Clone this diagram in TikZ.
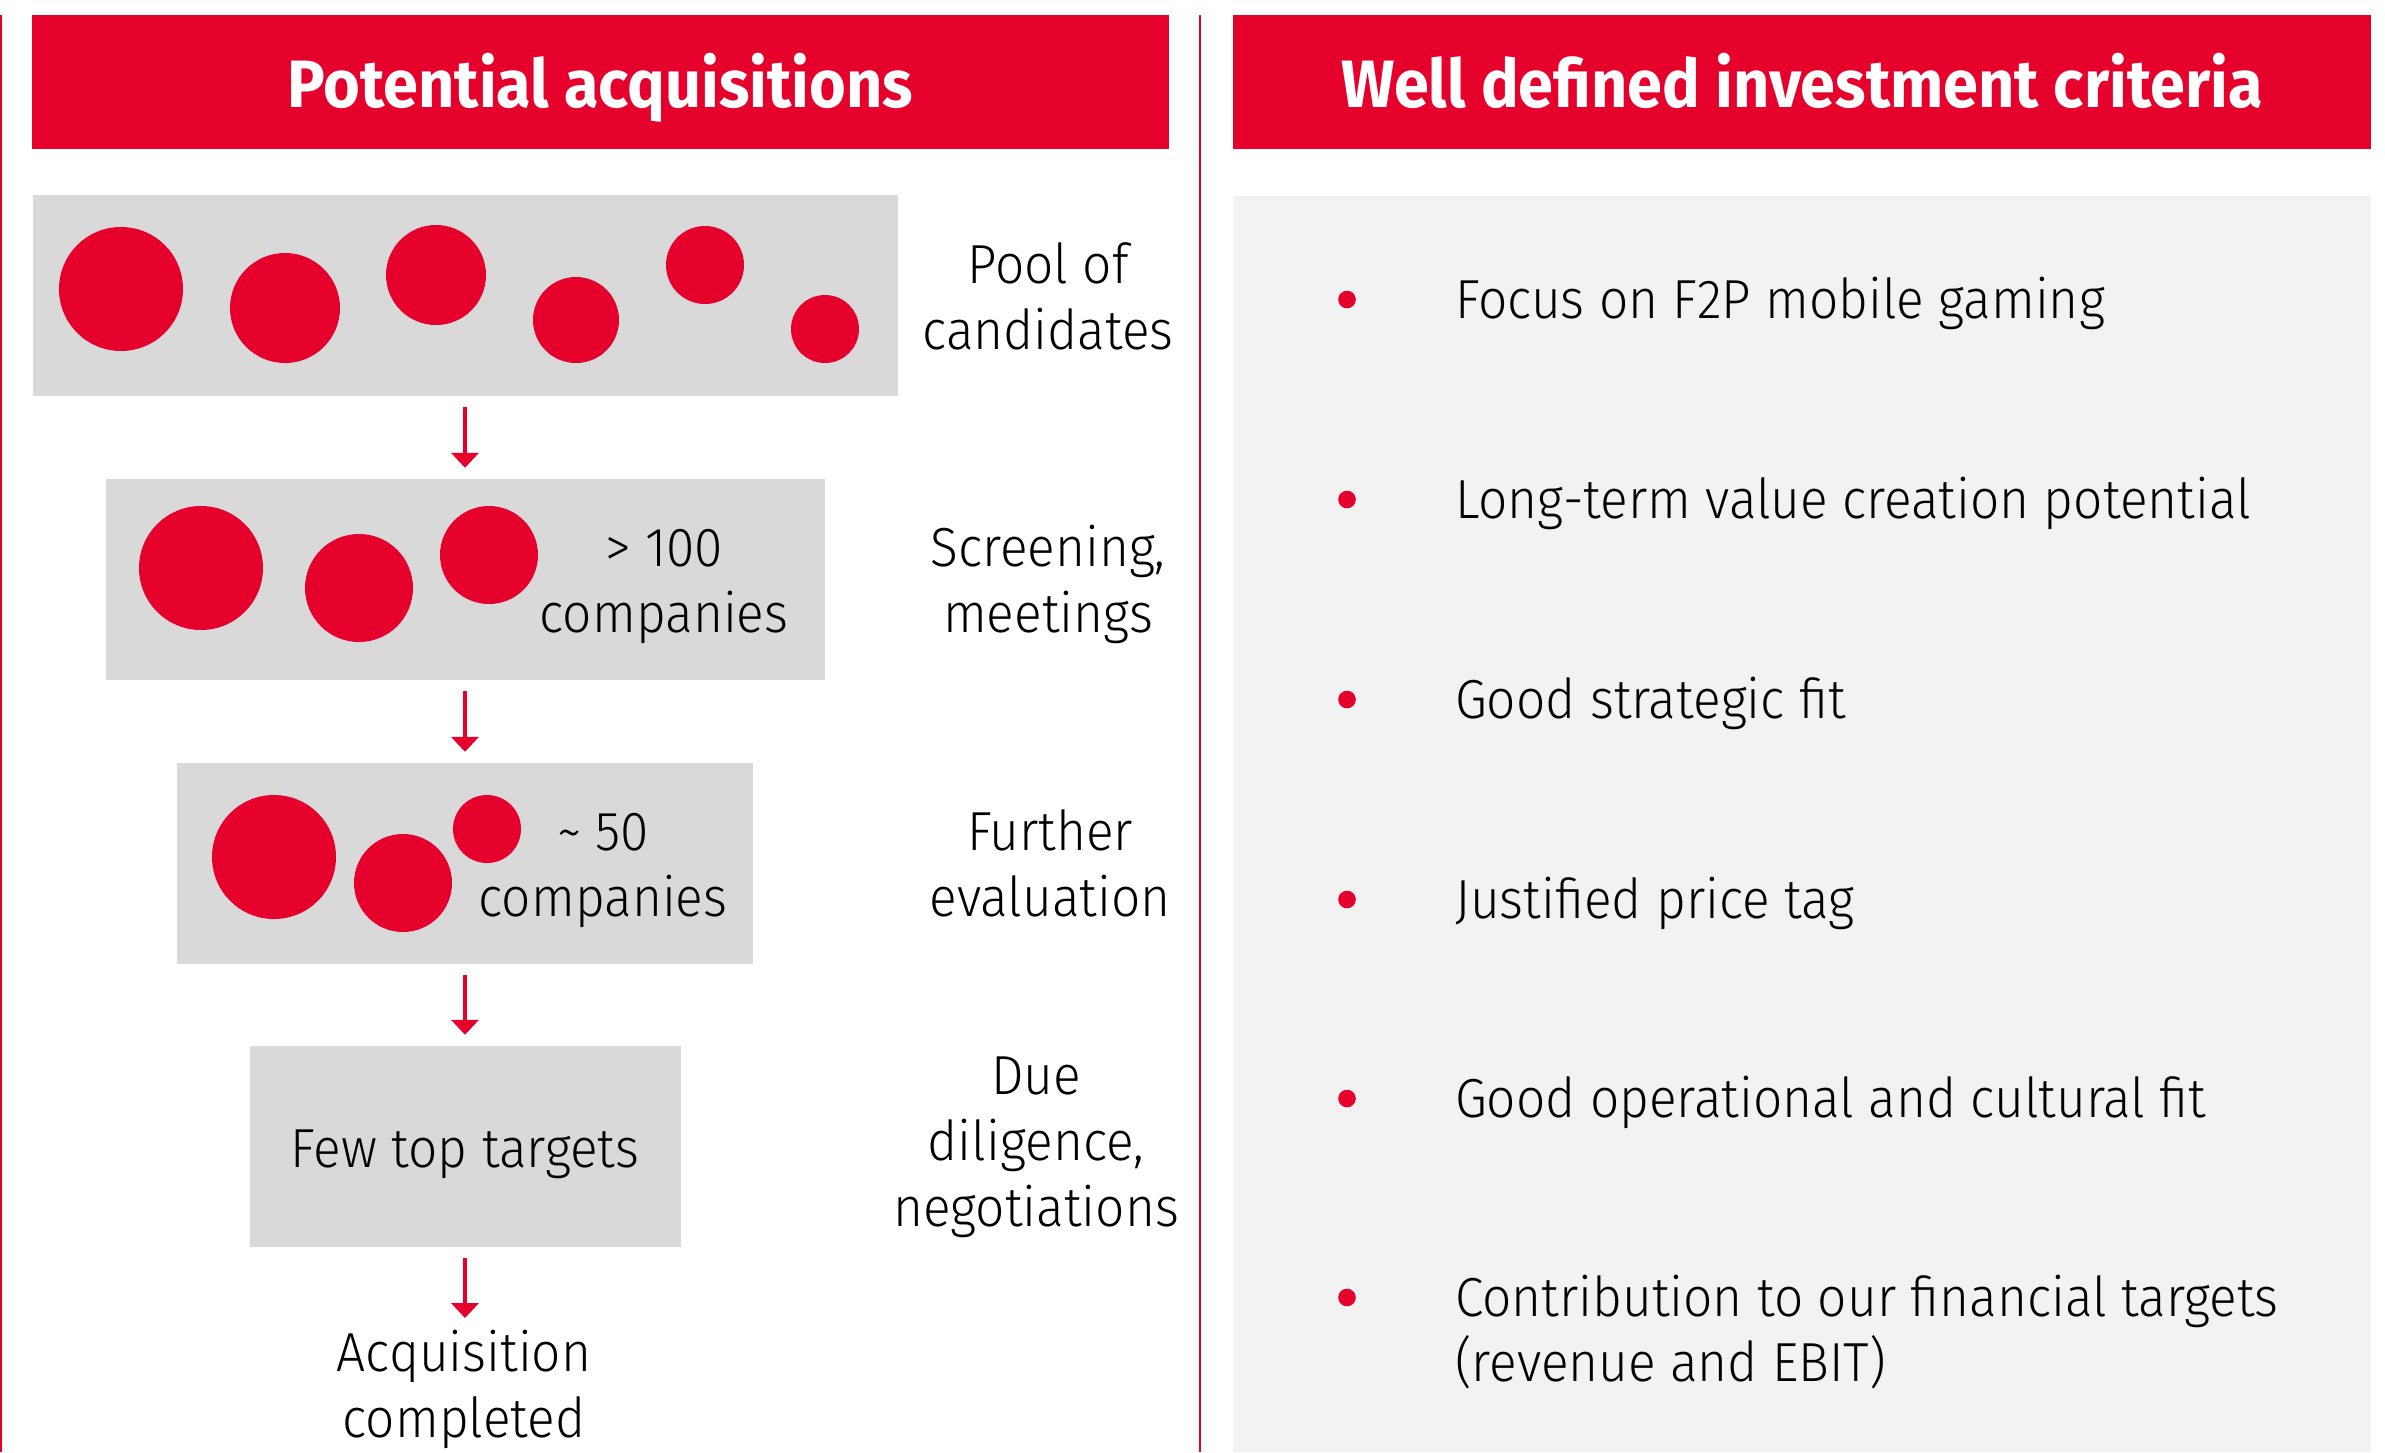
\documentclass[tikz,border=0pt]{standalone}
\usepackage{fontspec}
\setmainfont{Fira Sans Light}[FakeStretch=0.935]
\newfontfamily\headfont{Fira Sans Bold}[FakeStretch=0.94]
\usetikzlibrary{arrows.meta}
\definecolor{brandred}{RGB}{230,0,44}
\definecolor{boxgrey}{RGB}{217,217,217}
\definecolor{panelgrey}{RGB}{242,242,242}
% fixed-height strut so that every label's first baseline sits 60pt below its top
\newcommand\lnstrut{\rule{0pt}{60pt}}

\begin{document}
\begin{tikzpicture}[x=1pt,y=-1pt,
  header/.style={fill=brandred, text=white, inner sep=0pt,
    minimum height=134pt, text height=51pt, text depth=0pt,
    font=\headfont\fontsize{67}{80}\selectfont},
  stagebox/.style={fill=boxgrey, inner sep=0pt, minimum height=201pt},
  company/.style={fill=brandred},
  lbl/.style={inner sep=0pt, anchor=north, align=center,
    font=\fontsize{55}{66}\selectfont},
  item/.style={inner sep=0pt, anchor=north west, align=left,
    font=\fontsize{55}{65}\selectfont},
  flow/.style={draw=brandred, line width=4pt,
    -{Triangle[width=27pt,length=15pt]}, shorten <=11pt, shorten >=11pt},
]
\useasboundingbox (0,0) rectangle (2385,1452);

% rules framing the two columns
\draw[brandred, line width=1.5pt] (0.75,15) -- (0.75,1452);
\draw[brandred, line width=2.5pt] (1200,15) -- (1200,1452);

% column headers
\node[header, minimum width=1137pt] (hleft) at (600.5,82) {Potential acquisitions};
\node[header, minimum width=1138pt] (hright) at (1802,82) {Well defined investment criteria};

% criteria panel
\node[fill=panelgrey, inner sep=0pt, anchor=north west,
  minimum width=1138pt, minimum height=1256pt] (panel) at (1233,196) {};

% funnel stages
\node[stagebox, minimum width=865pt] (pool)   at (465,295.5)  {};
\node[stagebox, minimum width=719pt] (screen) at (465,579.5)  {};
\node[stagebox, minimum width=576pt] (eval)   at (465,863.5)  {};
\node[stagebox, minimum width=431pt] (top)    at (465,1146.5) {};
\node[lbl] (toplbl) at (465,1107) {\lnstrut Few top targets};
\coordinate (done) at (465,1318);

% companies in each stage
\fill[company] (121,289) circle[radius=62pt];
\fill[company] (285,308) circle[radius=55pt];
\fill[company] (436,275) circle[radius=50pt];
\fill[company] (576,320) circle[radius=43pt];
\fill[company] (705,265) circle[radius=39pt];
\fill[company] (825,329) circle[radius=34pt];

\fill[company] (201,568) circle[radius=62pt];
\fill[company] (359,588) circle[radius=54pt];
\fill[company] (489,555) circle[radius=49pt];

\fill[company] (274,857) circle[radius=62pt];
\fill[company] (403,883) circle[radius=49pt];
\fill[company] (487,829) circle[radius=34pt];

\node[lbl] (n100) at (664,506) {\lnstrut > 100\\companies};
\node[lbl] (n50)  at (603,790) {\lnstrut \textasciitilde\ 50\\companies};

% flow between stages
\draw[flow] (pool) -- (screen);
\draw[flow] (screen) -- (eval);
\draw[flow] (eval) -- (top);
\draw[flow, shorten >=0pt] (top) -- (done);
\node[lbl] (acq) at (464,1311) {\lnstrut Acquisition\\completed};

% stage descriptions
\node[lbl] (d1) at (1048,223)  {\lnstrut Pool of\\candidates};
\node[lbl] (d2) at (1048,506)  {\lnstrut Screening,\\meetings};
\node[lbl] (d3) at (1050,790)  {\lnstrut Further\\evaluation};
\node[lbl] (d4) at (1036,1034) {\lnstrut Due\\diligence,\\negotiations};

% investment criteria
\foreach \b/\t [count=\i] in {
  318/{Focus on F2P mobile gaming},
  518/{Long-term value creation potential},
  718/{Good strategic fit},
  918/{Justified price tag},
  1117/{Good operational and cultural fit},
  1316/{Contribution to our financial targets\\(revenue and EBIT)}}{
  \fill[brandred] (1347,\b-18.5) circle[radius=8.8pt];
  \node[item] (crit\i) at (1455,\b-60) {\lnstrut \t};
}
\end{tikzpicture}
\end{document}
